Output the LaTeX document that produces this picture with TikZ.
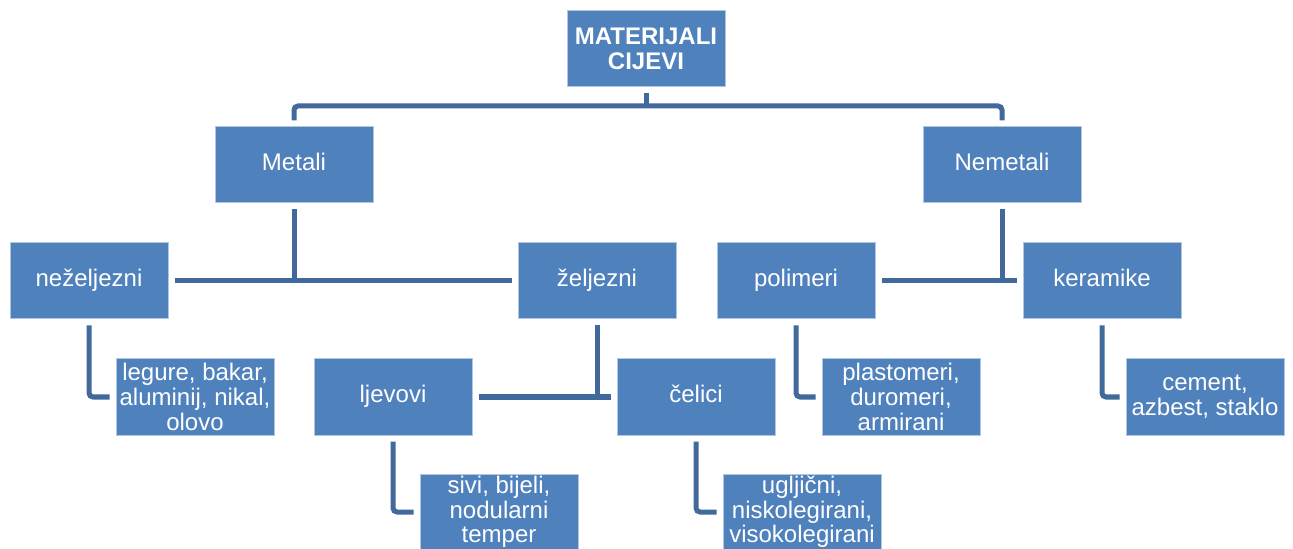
\documentclass[tikz,border=0pt]{standalone}
\usepackage{fontspec}
\setmainfont{Liberation Sans}
\usepackage{tikz}
\usetikzlibrary{calc}
\usepackage{xcolor}
\definecolor{boxBlue}{HTML}{4F81BD}
\definecolor{lineBlue}{HTML}{41699C}
\tikzset{
  matBox/.style={fill=boxBlue, draw=boxBlue!45!white, line width=0.5pt,
    minimum width=79pt, minimum height=38pt, inner sep=0pt,
    text=white, align=center, font=\fontsize{12}{12.3}\selectfont},
  matLine/.style={draw=lineBlue, line width=2.5pt},
}
\begin{document}
\begin{tikzpicture}[x=0.5pt,y=-0.5pt]
        \useasboundingbox (0,0) rectangle (1293,549);
        % level 0 and 1
        \node[matBox] (root) at (646,49) {\textbf{MATERIJALI}\\\textbf{CIJEVI}};
        \node[matBox] (metali) at (294,165) {\strut Metali};
        \node[matBox] (nemetali) at (1002,165) {\strut Nemetali};
        % level 2
        \node[matBox] (nezelj) at (89,281) {\strut neželjezni};
        \node[matBox] (zelj) at (597,281) {\strut željezni};
        \node[matBox] (polimeri) at (796,281) {\strut polimeri};
        \node[matBox] (keramike) at (1102,281) {\strut keramike};
        % level 3
        \node[matBox] (legure) at (195,397) {legure, bakar,\\aluminij, nikal,\\olovo};
        \node[matBox] (ljevovi) at (393,397) {\strut ljevovi};
        \node[matBox] (celici) at (696,397) {\strut čelici};
        \node[matBox] (plastomeri) at (901,397) {plastomeri,\\duromeri,\\armirani};
        \node[matBox] (cement) at (1205,397) {cement,\\azbest, staklo};
        % level 4
        \node[matBox] (sivi) at (499,512) {sivi, bijeli,\\nodularni\\temper};
        \node[matBox] (ugljicni) at (802,512) {ugljični,\\niskolegirani,\\visokolegirani};

        \coordinate (bus) at (646,106);
        \draw[matLine, shorten <=3pt] (root.south) -- (bus);
        \draw[matLine, rounded corners=2pt, shorten <=3pt, shorten >=3pt]
          (metali.north) |- (bus) -| (nemetali.north);

        \draw[matLine, shorten <=3pt] (metali.south) -- (metali |- nezelj);
        \draw[matLine, shorten <=3pt, shorten >=3pt] (nezelj.east) -- (zelj.west);
        \draw[matLine, shorten <=3pt] (nemetali.south) -- (nemetali |- polimeri);
        \draw[matLine, shorten <=3pt, shorten >=3pt] (polimeri.east) -- (keramike.west);
        \draw[matLine, shorten <=3pt] (zelj.south) -- (zelj |- ljevovi);
        \draw[matLine, shorten <=3pt, shorten >=3pt] (ljevovi.east) -- (celici.west);

        % leaves
        \draw[matLine, rounded corners=2pt, shorten <=3pt, shorten >=3pt] (nezelj.south) |- (legure.west);
        \draw[matLine, rounded corners=2pt, shorten <=3pt, shorten >=3pt] (polimeri.south) |- (plastomeri.west);
        \draw[matLine, rounded corners=2pt, shorten <=3pt, shorten >=3pt] (keramike.south) |- (cement.west);
        \draw[matLine, rounded corners=2pt, shorten <=3pt, shorten >=3pt] (ljevovi.south) |- (sivi.west);
        \draw[matLine, rounded corners=2pt, shorten <=3pt, shorten >=3pt] (celici.south) |- (ugljicni.west);
      \end{tikzpicture}
\end{document}
